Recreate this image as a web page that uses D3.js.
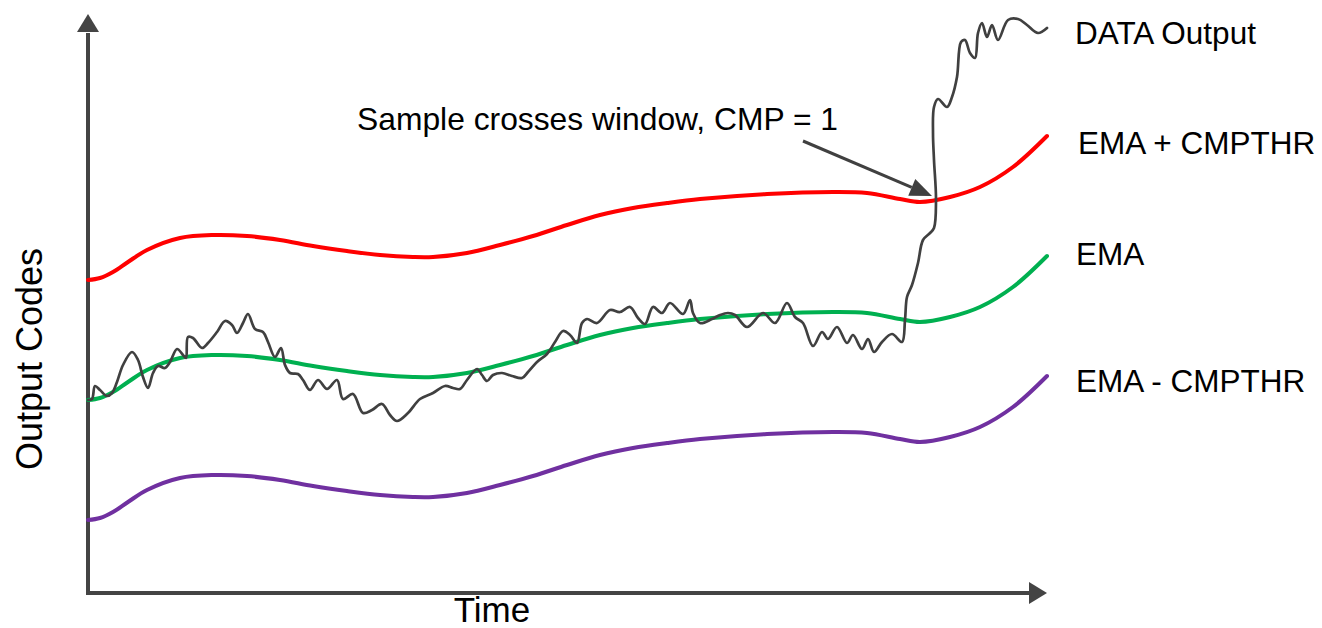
<!DOCTYPE html>
<html>
<head>
<meta charset="utf-8">
<script src="https://cdn.jsdelivr.net/npm/d3@7"></script>
<style>
  body { margin: 0; background: #fff; }
  svg { display: block; }
  text { font-family: "Liberation Sans", Arial, sans-serif; fill: #000; }
</style>
</head>
<body>
<div id="chart"></div>
<script>
// EMA window comparator sketch

// time samples for the EMA curve (arbitrary time units)
var emaTime = [0, 12, 25, 40, 59, 92, 125, 159, 192, 225, 259, 292, 325, 345, 379, 412, 445, 479, 512, 545, 579, 612, 679, 745, 779, 812, 832, 862, 892, 925, 959];
// EMA level (output codes)
var emaCodes = [193, 195, 201, 211, 223, 235, 238, 237, 233, 227, 222, 218, 216, 216, 220, 228, 237, 248, 258, 265, 270, 274, 279, 281, 280, 274, 271, 276, 286, 306, 337];
// comparator threshold, in codes
var CMPTHR = 120;

// raw DATA output samples
var dataTime = [0, 4, 7, 12, 19, 24, 29, 35, 44, 50, 55, 60, 65, 70, 77, 82, 89, 95, 98, 100, 105, 114, 120, 129, 137, 144, 149, 155, 160, 167, 175, 180, 187, 193, 197, 202, 210, 215, 222, 230, 239, 249, 255, 265, 275, 284, 294, 302, 309, 320, 332, 345, 357, 365, 372, 379, 389, 394, 399, 405, 414, 424, 434, 440, 449, 459, 467, 475, 482, 489, 494, 499, 509, 522, 532, 542, 550, 557, 565, 574, 582, 595, 602, 605, 612, 624, 632, 640, 647, 659, 675, 687, 699, 707, 715, 725, 734, 740, 749, 759, 765, 774, 780, 786, 794, 804, 814, 817, 819, 824, 830, 835, 842, 846, 848, 846, 845, 846, 850, 859, 864, 869, 873, 877, 882, 887, 890, 894, 899, 904, 910, 920, 930, 939, 950, 959];
var dataCodes = [193, 194, 207, 203, 197, 200, 211, 228, 241, 233, 216, 205, 220, 227, 225, 231, 244, 238, 235, 256, 255, 245, 250, 261, 272, 268, 260, 270, 279, 264, 261, 251, 236, 245, 228, 220, 219, 213, 203, 213, 204, 213, 194, 199, 180, 183, 189, 178, 172, 180, 194, 200, 207, 205, 204, 213, 224, 218, 212, 218, 220, 217, 215, 221, 231, 239, 251, 262, 258, 250, 270, 274, 270, 283, 281, 286, 275, 269, 286, 280, 290, 279, 293, 280, 270, 274, 278, 280, 278, 266, 280, 270, 290, 276, 270, 247, 261, 254, 266, 250, 258, 244, 254, 241, 251, 259, 251, 273, 296, 308, 330, 353, 360, 365, 393, 433, 460, 486, 494, 486, 496, 516, 551, 553, 540, 535, 560, 570, 556, 568, 553, 573, 574, 568, 560, 565];

// labels
var seriesLabels = ["DATA Output", "EMA + CMPTHR", "EMA", "EMA - CMPTHR"];
var annotationText = "Sample crosses window, CMP = 1";
var annotationFrom = [715, 452];   // [time, code]
var annotationTo = [844, 397];

var width = 1322;
var height = 628;

var svg = d3.select("#chart")
    .append("svg")
    .attr("width", width)
    .attr("height", height);

var x = d3.scaleLinear().domain([0, 960]).range([88, 1048]);
var y = d3.scaleLinear().domain([0, 580]).range([593, 13]);

var axisColor = "#444444";

// axes with arrow heads
svg.append("line")
    .attr("x1", x(0)).attr("y1", y(0))
    .attr("x2", x(0)).attr("y2", y(560))
    .attr("stroke", axisColor).attr("stroke-width", 4);
svg.append("line")
    .attr("x1", x(0) - 2).attr("y1", y(0))
    .attr("x2", x(942)).attr("y2", y(0))
    .attr("stroke", axisColor).attr("stroke-width", 4);
svg.append("path")
    .attr("d", "M" + x(0) + "," + (y(580) + 1) + "L" + (x(0) - 11) + "," + (y(580) + 19) + "L" + (x(0) + 11) + "," + (y(580) + 19) + "Z")
    .attr("fill", axisColor);
svg.append("path")
    .attr("d", "M" + (x(960) - 1) + "," + y(0) + "L" + (x(960) - 19) + "," + (y(0) - 11) + "L" + (x(960) - 19) + "," + (y(0) + 11) + "Z")
    .attr("fill", axisColor);

// axis titles
svg.append("text")
    .attr("x", 492)
    .attr("y", 622)
    .attr("text-anchor", "middle")
    .style("font-size", "35px")
    .text("Time");
svg.append("text")
    .attr("transform", "translate(42,359) rotate(-90)")
    .attr("text-anchor", "middle")
    .style("font-size", "36px")
    .text("Output Codes");

// EMA and its window
var emaRows = emaTime.map(function(t, i) { return { t: t, v: emaCodes[i] }; });
var curve = d3.line()
    .x(function(d) { return x(d.t); })
    .curve(d3.curveCatmullRom.alpha(0.5));

var bands = [
    { offset: CMPTHR, color: "#ff0000" },
    { offset: 0, color: "#00b050" },
    { offset: -CMPTHR, color: "#7030a0" }
];
bands.forEach(function(b) {
    svg.append("path")
        .datum(emaRows)
        .attr("fill", "none")
        .attr("stroke", b.color)
        .attr("stroke-width", 4)
        .attr("stroke-linecap", "round")
        .attr("d", curve.y(function(d) { return y(d.v + b.offset); }));
});

// DATA output
var dataRows = dataTime.map(function(t, i) { return { t: t, v: dataCodes[i] }; });
svg.append("path")
    .datum(dataRows)
    .attr("fill", "none")
    .attr("stroke", "#404040")
    .attr("stroke-width", 2.7)
    .attr("stroke-linejoin", "round")
    .attr("stroke-linecap", "round")
    .attr("d", curve.y(function(d) { return y(d.v); }));

// annotation arrow
var ax1 = x(annotationFrom[0]), ay1 = y(annotationFrom[1]);
var ax2 = x(annotationTo[0]), ay2 = y(annotationTo[1]);
var ang = Math.atan2(ay2 - ay1, ax2 - ax1);
var headLen = 22, headHalf = 9;
var bx = ax2 - headLen * Math.cos(ang), by = ay2 - headLen * Math.sin(ang);
svg.append("line")
    .attr("x1", ax1).attr("y1", ay1)
    .attr("x2", bx).attr("y2", by)
    .attr("stroke", "#404040").attr("stroke-width", 3);
svg.append("path")
    .attr("d", "M" + ax2 + "," + ay2 +
        "L" + (bx + headHalf * Math.sin(ang)) + "," + (by - headHalf * Math.cos(ang)) +
        "L" + (bx - headHalf * Math.sin(ang)) + "," + (by + headHalf * Math.cos(ang)) + "Z")
    .attr("fill", "#404040");
svg.append("text")
    .attr("x", 357)
    .attr("y", 130)
    .style("font-size", "31.8px")
    .text(annotationText);

// series labels on the right
var labelPos = [[1075, 44], [1078, 154], [1076, 265], [1076, 392]];
svg.selectAll(".series-label")
    .data(seriesLabels)
    .enter()
    .append("text")
    .attr("class", "series-label")
    .attr("x", function(d, i) { return labelPos[i][0]; })
    .attr("y", function(d, i) { return labelPos[i][1]; })
    .style("font-size", "31.5px")
    .text(function(d) { return d; });
</script>
</body>
</html>
